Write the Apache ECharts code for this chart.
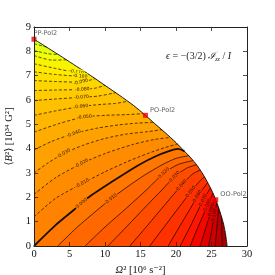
<!DOCTYPE html>
<html><head><meta charset="utf-8">
<script src="https://cdn.jsdelivr.net/npm/echarts@6.0.0/dist/echarts.min.js"></script>
<style>html,body{margin:0;padding:0;background:#fff;}#chart{width:275px;height:275px;}</style>
</head><body><div id="chart"></div>
<script>
// ---------------- data ----------------
const levels = [-0.14,-0.13,-0.12,-0.11,-0.10,-0.09,-0.08,-0.07,-0.06,-0.05,-0.04,-0.03,-0.02,-0.01,0.00,
                0.01,0.02,0.03,0.04,0.05,0.06,0.07,0.08,0.09,0.10,0.11,0.12];

const boundary = [[0,8.5],[2,8.13],[4,7.76],[6,7.38],[8,7.0],[10,6.6],[12,6.2],[14,5.78],[15.7,5.37],[17,5.03],
  [18.5,4.65],[20,4.25],[21,3.95],[22,3.65],[23,3.3],[24,2.85],[25,2.3],[25.6,1.9],[26.2,1.4],[26.7,0.9],[27,0.45],[27.2,0]];

const cM14 = [[0,8.31],[1.2,8.22],[1.8,8.17]];
const cM13 = [[0,8.03],[2,7.9],[3.4,7.87]];
const cM12 = [[0,7.83],[2.5,7.64],[4.6,7.65]];
const cM11 = [[0,7.49],[3,7.3],[6.0,7.15],[6.9,7.21]];
const cM10 = [[0,7.16],[3,7.05],[6.5,6.98],[7.6,7.08]];
const cM09 = [[0,6.8],[3,6.76],[6.5,6.73],[8.6,6.88]];
const cM08 = [[0,6.39],[3,6.41],[6.5,6.43],[8.5,6.48],[10,6.6]];
const cM07 = [[0,5.98],[3,6.04],[6.5,6.11],[9,6.16],[11.5,6.3]];
const cM06 = [[0,5.37],[3,5.55],[6.5,5.73],[9.5,5.82],[11.5,5.86],[13.2,5.95]];
const cM05 = [[0,4.68],[3.5,5.03],[7,5.3],[10,5.37],[13,5.4],[15.4,5.44]];
const cM04 = [[0,3.95],[2.5,4.3],[5.6,4.62],[9,4.85],[12,4.98],[14.5,5.05],[16.8,5.08]];
const cM03 = [[0,3.0],[2,3.42],[4.2,3.8],[7,4.15],[10,4.42],[13,4.6],[16,4.7],[18.0,4.78]];
const cM02 = [[0,2.12],[3,2.8],[6.7,3.39],[10,3.8],[14,4.18],[17,4.38],[19.2,4.46]];
const cM01 = [[0,1.2],[3,1.95],[6.8,2.57],[10,3.05],[13,3.45],[16,3.8],[18.5,4.05],[20.2,4.19]];
const cZ00 = [[0,0],[3,0.85],[5.6,1.48],[7.7,2.0],[11.3,2.7],[14.7,3.32],[17,3.67],[19,3.9],[20.3,3.99],[21.2,3.89]];
const cP01 = [[3.35,0],[6,0.75],[9,1.5],[10.9,1.95],[13,2.4],[15.5,2.9],[18,3.33],[20,3.6],[21.8,3.71]];
const cP02 = [[7.2,0],[10,0.78],[13,1.55],[16,2.35],[18.3,3.0],[20.3,3.35],[22.4,3.51]];
const cP03 = [[10.4,0],[13,0.78],[16,1.7],[18,2.3],[19.8,2.85],[21.5,3.2],[22.9,3.34]];
const cP04 = [[13.5,0],[16,0.85],[18.5,1.72],[20.8,2.5],[22.3,2.95],[23.4,3.12]];
const cP05 = [[16.3,0],[18.5,0.85],[20.5,1.62],[22.1,2.23],[23.2,2.62],[24.0,2.85]];
const cP06 = [[18.9,0],[20.5,0.8],[22,1.53],[23.05,2.05],[24.45,2.6]];
const cP07 = [[20.6,0],[22,0.8],[23.0,1.4],[23.85,1.89],[24.85,2.38]];
const cP08 = [[22.0,0],[23.2,0.85],[24.45,1.68],[25.2,2.17]];
const cP09 = [[23.4,0],[24.2,0.75],[25.0,1.48],[25.5,1.97]];
const cP10 = [[24.6,0],[25.0,0.6],[25.4,1.27],[25.75,1.78]];
const cP11 = [[25.5,0],[25.75,0.7],[26.0,1.57]];
const cP12 = [[26.5,0],[26.45,0.6],[26.4,1.2]];

const contours = [cM14,cM13,cM12,cM11,cM10,cM09,cM08,cM07,cM06,cM05,cM04,cM03,cM02,cM01,cZ00,
                  cP01,cP02,cP03,cP04,cP05,cP06,cP07,cP08,cP09,cP10,cP11,cP12];

const labelLevels = [-0.11,-0.10,-0.09,-0.08,-0.07,-0.06,-0.05,-0.04,-0.03,-0.02,-0.01,0.00,
                     0.01,0.02,0.03,0.04,0.05,0.06,0.07,0.08,0.09,0.10];
const labelOmega2 = [6.0,6.5,6.6,6.8,6.7,6.6,7.1,5.6,4.2,6.7,6.8,6.7,
                     10.9,18.3,19.8,20.8,22.1,23.05,23.85,24.45,25.0,25.4];

const modeNames  = ['PP-Pol2','PO-Pol2','OO-Pol2'];
const modeOmega2 = [0, 15.7, 25.6];
const modeB2     = [8.5, 5.37, 1.9];

// ---------------- styling helpers ----------------
const JET = {
  r: [[0,0],[0.35,0],[0.66,1],[0.89,1],[1,0.5]],
  g: [[0,0],[0.125,0],[0.375,1],[0.64,1],[0.91,0],[1,0]],
  b: [[0,0.5],[0.11,1],[0.34,1],[0.65,0],[1,0]]
};
function seg(s, t){ for(let i=0;i<s.length-1;i++){ if(t<=s[i+1][0]){ const f=(t-s[i][0])/(s[i+1][0]-s[i][0]); return s[i][1]+f*(s[i+1][1]-s[i][1]); } } return s[s.length-1][1]; }
function colorAt(v){
  let t = v < 0 ? 0.778 + 1.1*v : 0.778 + 1.45*v;
  t = Math.max(0, Math.min(1, t));
  const c = ['r','g','b'].map(k => Math.round(255*seg(JET[k], t)));
  return 'rgb(' + c.join(',') + ')';
}

const fills = [];
fills.push({pts: boundary.concat([[0,0]]), color: colorAt(0.127)});
for (let k = levels.length - 1; k >= 0; k--) {
  const c = contours[k], s = c[0], e = c[c.length-1];
  const pts = c.concat([[e[0], 9], [0, 9]]);
  if (s[0] > 0 || s[1] === 0) pts.push([0, 0]);
  fills.push({pts, color: colorAt(levels[k] - 0.005)});
}
fills.push({pts: boundary.concat([[30,0],[30,9],[0,9]]), color: '#ffffff'});

function locate(c, x){
  for (let i = 0; i < c.length - 1; i++) {
    const a = c[i], b = c[i+1];
    if ((x - a[0]) * (x - b[0]) <= 0 && a[0] !== b[0]) {
      const f = (x - a[0]) / (b[0] - a[0]);
      return {y: a[1] + f*(b[1]-a[1]), a, b};
    }
  }
  return null;
}

const serif = '"Liberation Serif","DejaVu Serif",serif';
const series = [];
series.push({
  type: 'custom', z: 1, silent: true, animation: false,
  data: fills.map(() => [0, 0]),
  renderItem: (params, api) => {
    const f = fills[params.dataIndex];
    return {type: 'polygon', shape: {points: f.pts.map(p => api.coord(p))},
            style: {fill: f.color, stroke: null, lineWidth: 0}};
  }
});
levels.forEach((lv, k) => {
  series.push({
    type: 'line', data: contours[k], symbol: 'none', smooth: 0.25, z: 3, silent: true, animation: false,
    lineStyle: {color: '#000', width: lv === 0 ? 1.8 : 0.75, type: lv < 0 ? [3, 2] : 'solid', opacity: 0.9}
  });
});
series.push({
  type: 'line', data: boundary, symbol: 'none', smooth: 0.25, z: 4, silent: true, animation: false,
  lineStyle: {color: '#000', width: 0.9}
});
series.push({
  type: 'custom', z: 5, silent: true, animation: false,
  data: labelLevels.map(() => [0, 0]),
  renderItem: (params, api) => {
    const lv = labelLevels[params.dataIndex];
    const x = labelOmega2[params.dataIndex];
    const k = levels.findIndex(v => Math.abs(v - lv) < 1e-9);
    const loc = locate(contours[k], x);
    if (!loc) return null;
    const p = api.coord([x, loc.y]);
    const p1 = api.coord(loc.a), p2 = api.coord(loc.b);
    const ang = Math.atan2(p2[1] - p1[1], p2[0] - p1[0]);
    return {type: 'text', x: p[0], y: p[1], rotation: -ang,
      style: {text: lv.toFixed(3), fontSize: 4.6, fontFamily: '"DejaVu Sans",sans-serif',
              fill: '#2a1500', align: 'center', verticalAlign: 'middle',
              stroke: colorAt(lv), lineWidth: 2.2}};
  }
});
series.push({
  type: 'scatter', z: 6, clip: false, animation: false, symbol: 'rect', symbolSize: 5,
  itemStyle: {color: '#ee0000'},
  data: modeNames.map((n, i) => ({
    name: n, value: [modeOmega2[i], modeB2[i]],
    label: {show: true, position: 'right', distance: 2, formatter: n,
            offset: i === 0 ? [-5, -6] : [0, -5],
            fontSize: 6.5, color: '#333', fontFamily: '"DejaVu Sans",sans-serif'}
  }))
});

function axisBase(){
  return {
    type: 'value', z: 10,
    axisLine: {show: true, onZero: false, lineStyle: {color: '#222', width: 1}},
    axisTick: {show: true, inside: true, length: 4, lineStyle: {color: '#222', width: 0.8}},
    splitLine: {show: false}
  };
}

const option = {
  animation: false,
  backgroundColor: '#fff',
  grid: {left: 34, right: 28, top: 27, bottom: 29, containLabel: false, outerBoundsMode: 'none'},
  title: {
    text: '{e|ϵ}{n| = −(3/2) }{j|ℐ}{s|zz}{n| / }{e|I}',
    left: 161, top: 45,
    textStyle: {
      fontWeight: 'normal',
      rich: {
        e: {fontFamily: serif, fontStyle: 'italic', fontWeight: 'normal', fontSize: 10, color: '#222'},
        n: {fontFamily: serif, fontWeight: 'normal', fontSize: 10, color: '#222'},
        j: {fontFamily: serif, fontStyle: 'italic', fontWeight: 'normal', fontSize: 10, color: '#222'},
        s: {fontFamily: serif, fontStyle: 'italic', fontWeight: 'normal', fontSize: 6, color: '#222', padding: [6, 0, 0, 0]}
      }
    }
  },
  xAxis: [
    Object.assign(axisBase(), {
      position: 'bottom', min: 0, max: 30, interval: 5,
      axisLabel: {fontFamily: serif, fontSize: 10.5, color: '#111', margin: 3},
      name: '{i|Ω}{n|² [10⁶ s⁻²]}', nameLocation: 'middle', nameGap: 13,
      nameTextStyle: {rich: {
        i: {fontFamily: serif, fontStyle: 'italic', fontSize: 10.5, color: '#111'},
        n: {fontFamily: serif, fontSize: 10.5, color: '#111'}}}
    }),
    Object.assign(axisBase(), {
      position: 'top', min: 0, max: 30, interval: 5, axisLabel: {show: false}
    })
  ],
  yAxis: [
    Object.assign(axisBase(), {
      position: 'left', min: 0, max: 9, interval: 1,
      axisLabel: {fontFamily: serif, fontSize: 10.5, color: '#111', margin: 3},
      name: '{n|⟨}{i|B}{n|²⟩ [10³⁴ G²]}', nameLocation: 'middle', nameGap: 14,
      nameTextStyle: {rich: {
        i: {fontFamily: serif, fontStyle: 'italic', fontSize: 10.5, color: '#111'},
        n: {fontFamily: serif, fontSize: 10.5, color: '#111'}}}
    }),
    Object.assign(axisBase(), {
      position: 'right', min: 0, max: 9, interval: 1, axisLabel: {show: false}
    })
  ],
  series: series
};

const chart = echarts.init(document.getElementById('chart'), null, {renderer: 'canvas'});
chart.setOption(option);
</script>
</body></html>
